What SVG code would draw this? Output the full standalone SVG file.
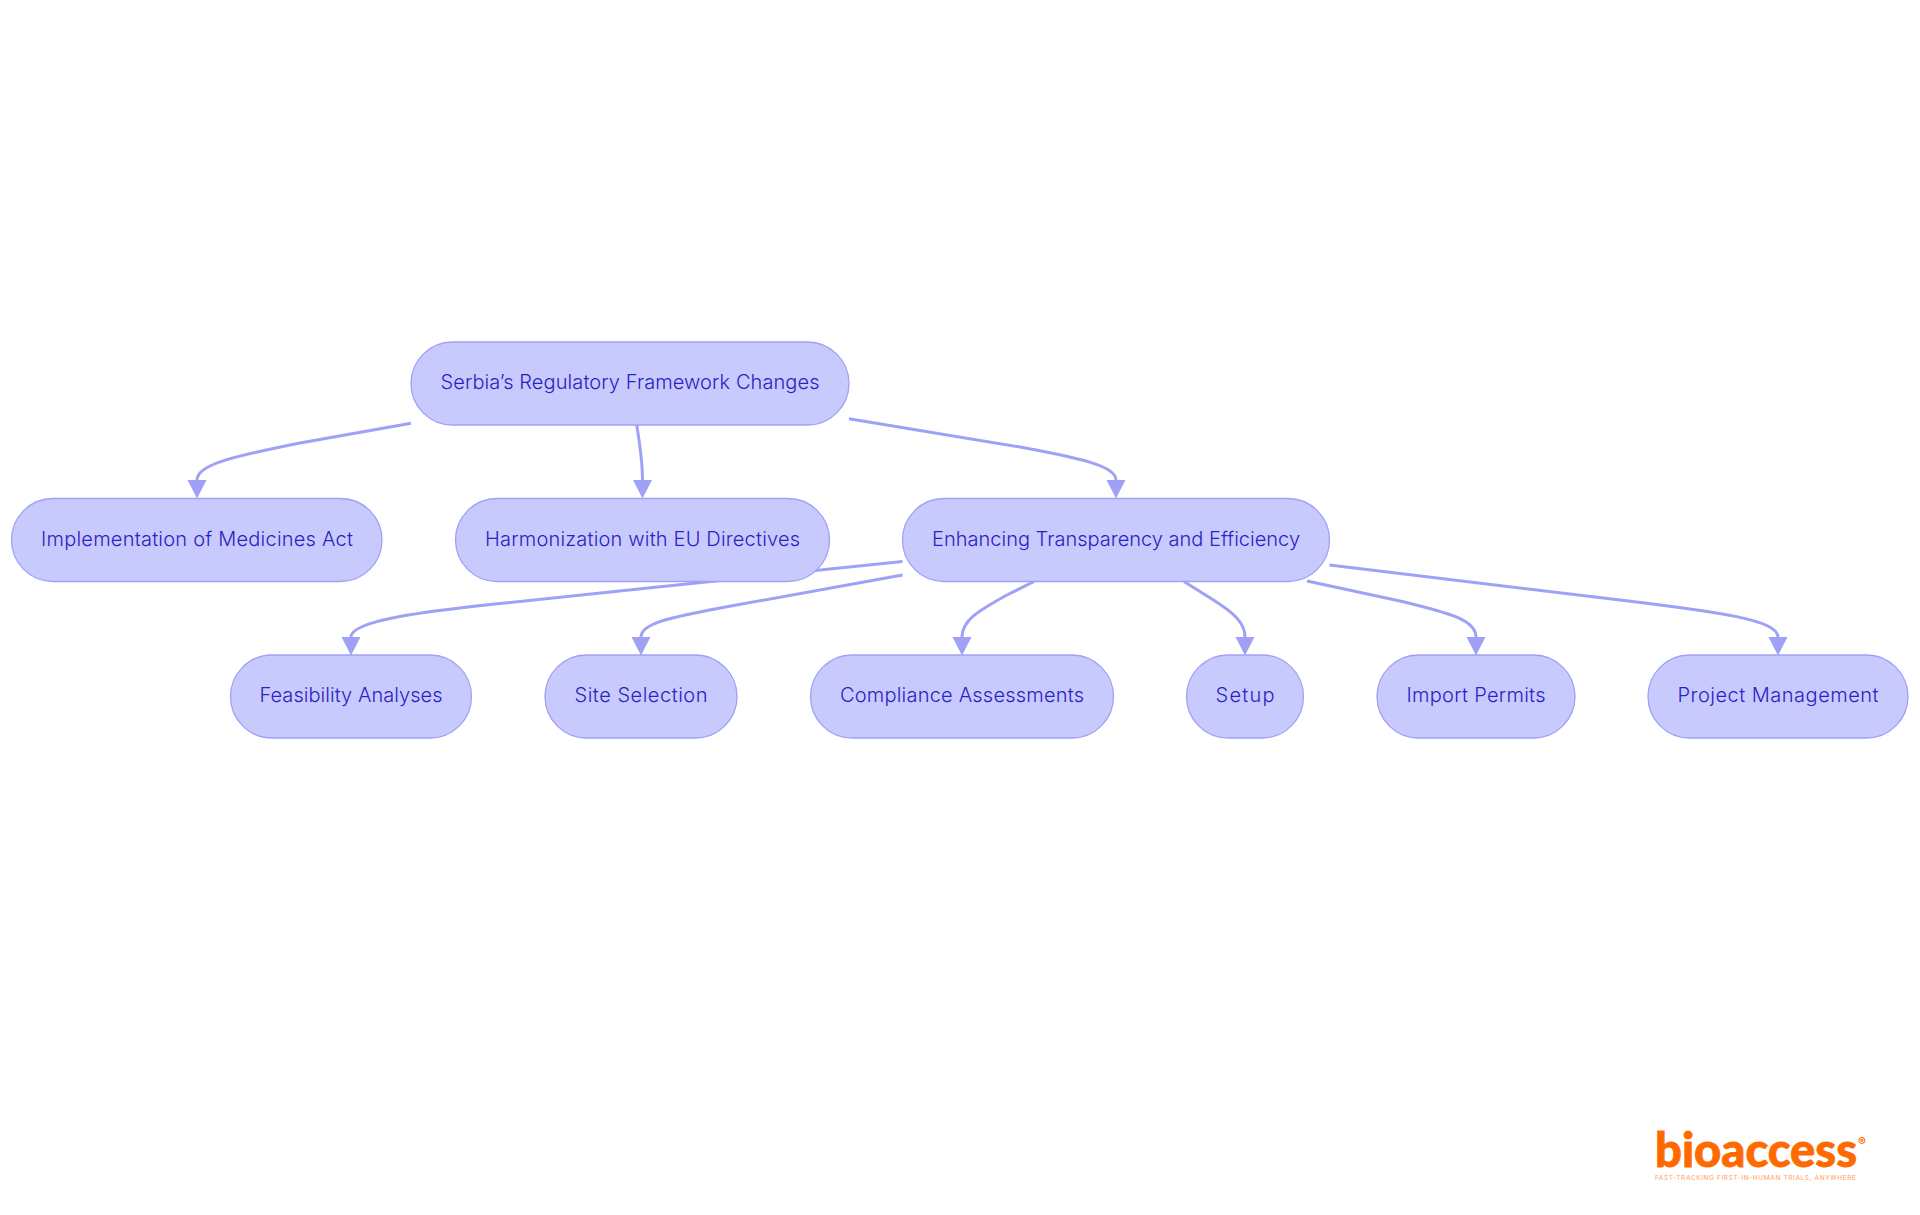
<svg xmlns="http://www.w3.org/2000/svg" width="1920" height="1215" viewBox="0 0 1920 1215">
<style>
.n{fill:#c8cafd;stroke:#9ea1f5;stroke-width:1.3}
.t{fill:#2a22c4;font-family:"Inter","Noto Sans",sans-serif;font-size:20px;font-weight:300;text-anchor:middle;dominant-baseline:central}
.e{fill:none;stroke:#9ea1f5;stroke-width:3;marker-end:url(#a)}
</style>
<defs><marker id="a" markerUnits="userSpaceOnUse" markerWidth="20" markerHeight="20" refX="0" refY="10" orient="90"><path d="M0 0.500L18.500 10L0 19.500z" fill="#9ea1f5"/></marker></defs>
<rect width="1920" height="1215" fill="#fff"/>
<g id="connectors">
<path class="e" d="M411 423.300L300 443C230 457 197 465 197 480"/>
<path class="e" d="M636.700 425C640 445 642.500 460 642.500 480"/>
<path class="e" d="M849 418.700L1020 447C1080 458 1116 466 1116 480"/>
<path class="e" d="M902.500 561.500L660 586.700L495 604C430 611 351 620 351 637"/>
<path class="e" d="M902.500 575L720 608C680 616 641 622 641 637"/>
<path class="e" d="M1034 581.500L1005 596C980 610 962 620 962 637"/>
<path class="e" d="M1184 581.500L1215 601C1232 612 1245 622 1245 637"/>
<path class="e" d="M1307 581L1400 601C1450 613 1476 620 1476 637"/>
<path class="e" d="M1329.500 565L1620 600C1720 612 1778 620 1778 637"/>
</g>
<g id="n-root"><rect class="n" x="411" y="342" width="438" height="83" rx="41.500"/><text class="t" x="630" y="382" textLength="379" lengthAdjust="spacing">Serbia’s Regulatory Framework Changes</text></g>
<g id="n-impl"><rect class="n" x="11.500" y="498.500" width="370.500" height="83" rx="41.500"/><text class="t" x="197" y="539" textLength="312" lengthAdjust="spacing">Implementation of Medicines Act</text></g>
<g id="n-harm"><rect class="n" x="455.500" y="498.500" width="374" height="83" rx="41.500"/><text class="t" x="642.500" y="539" textLength="315" lengthAdjust="spacing">Harmonization with EU Directives</text></g>
<g id="n-enh"><rect class="n" x="902.500" y="498.500" width="427" height="83" rx="41.500"/><text class="t" x="1116" y="539" textLength="368" lengthAdjust="spacing">Enhancing Transparency and Efficiency</text></g>
<g id="n-feas"><rect class="n" x="230.500" y="655" width="241" height="83" rx="41.500"/><text class="t" x="351" y="695" textLength="183" lengthAdjust="spacing">Feasibility Analyses</text></g>
<g id="n-site"><rect class="n" x="545" y="655" width="192" height="83" rx="41.500"/><text class="t" x="641" y="695" textLength="133" lengthAdjust="spacing">Site Selection</text></g>
<g id="n-comp"><rect class="n" x="810.500" y="655" width="303" height="83" rx="41.500"/><text class="t" x="962" y="695" textLength="244" lengthAdjust="spacing">Compliance Assessments</text></g>
<g id="n-setup"><rect class="n" x="1186.500" y="655" width="117" height="83" rx="41.500"/><text class="t" x="1245" y="695" textLength="59" lengthAdjust="spacing">Setup</text></g>
<g id="n-import"><rect class="n" x="1377" y="655" width="198" height="83" rx="41.500"/><text class="t" x="1476" y="695" textLength="139" lengthAdjust="spacing">Import Permits</text></g>
<g id="n-proj"><rect class="n" x="1648" y="655" width="260" height="83" rx="41.500"/><text class="t" x="1778" y="695" textLength="201" lengthAdjust="spacing">Project Management</text></g>
<g id="logo">
<text x="1655" y="1167" font-family="Lato,sans-serif" font-weight="900" font-size="47" fill="#ff6a00" stroke="#ff6a00" stroke-width="0.8" textLength="202" lengthAdjust="spacingAndGlyphs">bioaccess</text>
<text x="1858" y="1146" font-family="Inter,sans-serif" font-weight="700" font-size="12" fill="#ff6a00">®</text>
<text x="1655" y="1180" font-family="Inter,sans-serif" font-size="6.500" fill="#ff9d5c" textLength="201" lengthAdjust="spacing">FAST-TRACKING FIRST-IN-HUMAN TRIALS, ANYWHERE</text>
</g>
</svg>
